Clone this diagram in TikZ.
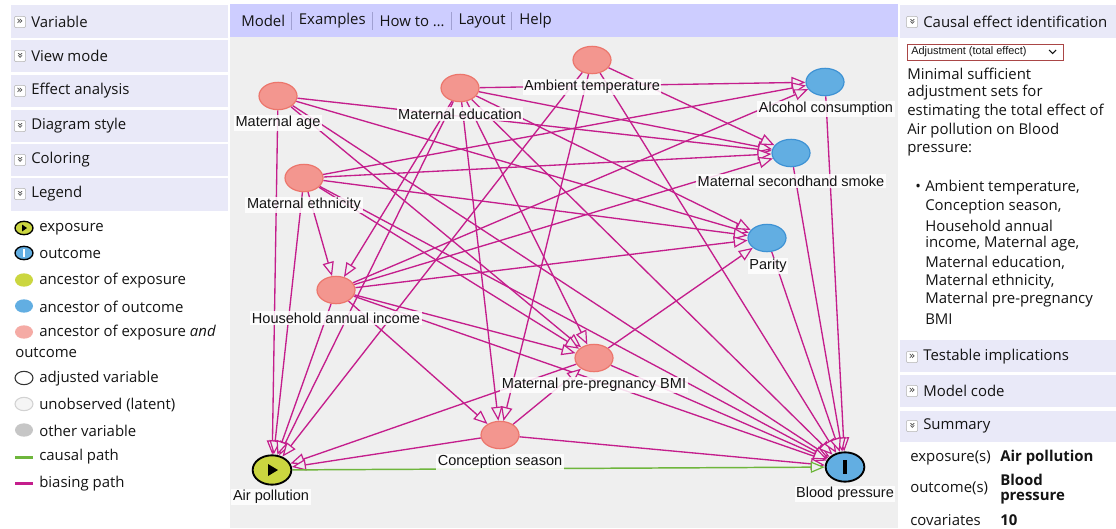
\documentclass[tikz,border=0pt]{standalone}
\usepackage{fontspec}
\setmainfont{Liberation Sans}
\newfontfamily\uif{Open Sans}
\newfontfamily\symf{DejaVu Sans}
\usetikzlibrary{arrows.meta,shapes.geometric}
\definecolor{canvasbg}{RGB}{239,239,239}
\definecolor{menubg}{RGB}{205,205,255}
\definecolor{hdrbg}{RGB}{233,233,248}
\definecolor{pinkfill}{RGB}{243,150,143}
\definecolor{pinkdraw}{RGB}{236,118,108}
\definecolor{bluefill}{RGB}{98,174,226}
\definecolor{bluedraw}{RGB}{62,146,212}
\definecolor{expfill}{RGB}{203,214,64}
\definecolor{edgecol}{RGB}{196,30,140}
\definecolor{causalcol}{RGB}{110,182,60}
\definecolor{sepcol}{RGB}{160,160,210}
\definecolor{ddborder}{RGB}{170,70,70}
\definecolor{txt}{RGB}{20,20,20}
\pgfdeclarelayer{bg}
\pgfdeclarelayer{edges}
\pgfsetlayers{bg,edges,main}
\newcommand\uisz{\uif\fontsize{11.2}{12}\selectfont}
\begin{document}
\begin{tikzpicture}[x=0.75pt,y=-0.75pt,
  var/.style={ellipse, minimum width=28.5pt, minimum height=20.5pt, inner sep=0pt, line width=0.9pt},
  pinkv/.style={var, fill=pinkfill, draw=pinkdraw},
  bluev/.style={var, fill=bluefill, draw=bluedraw},
  lbl/.style={fill=white, fill opacity=0.85, text opacity=1, inner sep=1.2pt, font=\fontsize{10.9}{12}\selectfont, text=txt},
  e/.style={draw=edgecol, line width=1pt, -{Triangle[length=10.5pt,width=8.5pt,fill=canvasbg,line width=0.9pt]}},
  causal/.style={draw=causalcol, line width=1.1pt, -{Triangle[length=10.5pt,width=8.5pt,fill=canvasbg,line width=0.9pt]}},
  ui/.style={font=\uisz, text=txt, inner sep=0pt, anchor=west},
  uib/.style={font=\uisz\bfseries, text=txt, inner sep=0pt, anchor=west},
  hdr/.style={fill=hdrbg},
  icon/.style={draw=gray!60, fill=white, rounded corners=1.5pt, minimum size=8.5pt, inner sep=0pt, font=\symf\fontsize{8}{8}\selectfont, text=gray!40!black},
  leg/.style={ellipse, minimum width=13.5pt, minimum height=10pt, inner sep=0pt},
  sep/.style={draw=sepcol, line width=0.6pt}
]
\useasboundingbox (0,0) rectangle (1116,528);
\begin{pgfonlayer}{bg}
\fill[white] (0,0) rectangle (1116,528);
\fill[canvasbg] (230,37) rectangle (898,528);
\fill[menubg] (230,4) rectangle (898,37);
\end{pgfonlayer}

% ---------- menu bar ----------
\node[ui] (mModel) at (241,21) {Model};
\draw[sep] ([xshift=4.5pt]mModel.east) ++(0,-9) -- ++(0,18);
\node[ui] (mEx) at ([xshift=10pt]mModel.east) {Examples};
\draw[sep] ([xshift=4.5pt]mEx.east) ++(0,-9) -- ++(0,18);
\node[ui] (mHow) at ([xshift=10pt]mEx.east) {How to \ldots};
\draw[sep] ([xshift=4.5pt]mHow.east) ++(0,-9) -- ++(0,18);
\node[ui] (mLay) at ([xshift=10pt]mHow.east) {Layout};
\draw[sep] ([xshift=4.5pt]mLay.east) ++(0,-9) -- ++(0,18);
\node[ui] (mHelp) at ([xshift=10pt]mLay.east) {Help};

% ---------- left panel headers ----------
\fill[hdr] (11,5) rectangle (228,38);
\node[icon] (i1) at (20,22) {»};
\node[ui] (h1) at (31,22) {Variable};
\fill[hdr] (11,40) rectangle (228,72);
\node[icon, rotate=-90] (i2) at (20,56) {»};
\node[ui] (h2) at (31,56) {View mode};
\fill[hdr] (11,75) rectangle (228,107);
\node[icon] (i3) at (20,91) {»};
\node[ui] (h3) at (31,91) {Effect analysis};
\fill[hdr] (11,110) rectangle (228,142);
\node[icon, rotate=-90] (i4) at (20,126) {»};
\node[ui] (h4) at (31,126) {Diagram style};
\fill[hdr] (11,144) rectangle (228,176);
\node[icon, rotate=-90] (i5) at (20,160) {»};
\node[ui] (h5) at (31,160) {Coloring};
\fill[hdr] (11,178) rectangle (228,211);
\node[icon, rotate=-90] (i6) at (20,194) {»};
\node[ui] (h6) at (31,194) {Legend};

% ---------- legend ----------
\node[leg, fill=expfill, draw=black, line width=1pt] (lg1) at (24,228) {};
\fill (lg1.center) ++(-2,-3.5) -- ++(0,7) -- ++(5,-3.5) -- cycle;
\node[ui] (lt1) at (39,229) {exposure};
\node[leg, fill=bluefill, draw=black, line width=1pt] (lg2) at (24,253) {};
\fill[white] (lg2.center) ++(-1,-4) rectangle ++(2,8);
\node[ui] (lt2) at (39,254) {outcome};
\node[leg, fill=expfill] (lg3) at (24,280) {};
\node[ui] (lt3) at (39,281) {ancestor of exposure};
\node[leg, fill=bluefill] (lg4) at (24,306) {};
\node[ui] (lt4) at (39,307) {ancestor of outcome};
\node[leg, fill=pinkfill!80!white] (lg5) at (24,332) {};
\node[ui] (lt5) at (39,333) {ancestor of exposure \textit{and}};
\node[ui] (lt5b) at (15,353) {outcome};
\node[leg, fill=white, draw=black!80, line width=0.8pt] (lg6) at (24,378) {};
\node[ui] (lt6) at (39,379) {adjusted variable};
\node[leg, fill=gray!8, draw=gray!35, line width=0.8pt] (lg7) at (24,404) {};
\node[ui] (lt7) at (39,405) {unobserved (latent)};
\node[leg, fill=gray!45] (lg8) at (24,430) {};
\node[ui] (lt8) at (39,431) {other variable};
\fill[causalcol] (15,456) rectangle (33,459);
\node[ui] (lt9) at (39,457) {causal path};
\fill[edgecol] (15,482) rectangle (33,485);
\node[ui] (lt10) at (39,484) {biasing path};

% ---------- right panel ----------
\fill[hdr] (900,5) rectangle (1116,38);
\node[icon, rotate=-90] (r1) at (912,22) {»};
\node[ui] (rh1) at (923,22) {Causal effect identification};
\node[draw=ddborder, line width=0.7pt, minimum width=117pt, minimum height=12pt, inner sep=0pt, anchor=west, fill=white] (dd) at (907,52) {};
\node[font=\fontsize{8.2}{9}\selectfont, inner sep=0pt, anchor=west, text=txt] (ddt) at (911,52) {Adjustment (total effect)};
\draw[line width=0.8pt, txt] (1049,50) -- (1052.5,53.5) -- (1056,50);
\node[ui] (t1) at (907,74) {Minimal sufficient};
\node[ui] (t2) at (907,93) {adjustment sets for};
\node[ui] (t3) at (907,112) {estimating the total effect of};
\node[ui] (t4) at (907,131) {Air pollution on Blood};
\node[ui] (t5) at (907,150) {pressure:};
\node[ui] (bul) at (915,188) {•};
\node[ui] (l1) at (925,188) {Ambient temperature,};
\node[ui] (l2) at (925,207) {Conception season,};
\node[ui] (l3) at (925,226) {Household annual};
\node[ui] (l4) at (925,244) {income, Maternal age,};
\node[ui] (l5) at (925,263) {Maternal education,};
\node[ui] (l6) at (925,282) {Maternal ethnicity,};
\node[ui] (l7) at (925,300) {Maternal pre-pregnancy};
\node[ui] (l8) at (925,319) {BMI};
\fill[hdr] (900,340) rectangle (1116,372);
\node[icon] (r2) at (912,357) {»};
\node[ui] (rh2) at (923,357) {Testable implications};
\fill[hdr] (900,375) rectangle (1116,407);
\node[icon] (r3) at (912,391) {»};
\node[ui] (rh3) at (923,391) {Model code};
\fill[hdr] (900,411) rectangle (1116,442);
\node[icon, rotate=-90] (r4) at (912,426) {»};
\node[ui] (rh4) at (923,426) {Summary};
\node[ui] (s1) at (910,458) {exposure(s)};
\node[uib] (s1v) at (1000,458) {Air pollution};
\node[ui] (s2) at (910,488) {outcome(s)};
\node[uib] (s2v) at (1000,480) {Blood};
\node[uib] (s2w) at (1000,498) {pressure};
\node[ui] (s3) at (910,520) {covariates};
\node[uib] (s3v) at (1000,520) {10};

% ---------- graph nodes ----------
\node[pinkv] (MA) at (278,96) {};
\node[pinkv] (ME) at (460,88) {};
\node[pinkv] (AT) at (592,60) {};
\node[bluev] (AC) at (825,82) {};
\node[pinkv] (ETH) at (304,178) {};
\node[bluev] (SS) at (791,153) {};
\node[bluev] (P) at (767,238) {};
\node[pinkv] (HI) at (336,290) {};
\node[pinkv] (BMI) at (594,358) {};
\node[pinkv] (CS) at (500,435) {};
\node[var, fill=expfill, draw=black, line width=1.4pt, minimum width=29pt, minimum height=22pt] (AP) at (272,470) {};
\node[var, fill=bluefill, draw=black, line width=1.4pt, minimum width=29pt, minimum height=22pt] (BP) at (845,467) {};
\fill (AP.center) ++(-4,-6) -- ++(0,12) -- ++(10,-6) -- cycle;
\fill (BP.center) ++(-1.6,-7) rectangle ++(3.2,14);

% ---------- edges ----------
\begin{pgfonlayer}{edges}
\foreach \a/\b in {MA/AP, MA/BP, MA/SS, MA/P, MA/BMI,
  ME/AP, ME/BP, ME/AC, ME/SS, ME/P, ME/BMI, ME/HI, ME/CS,
  AT/AP, AT/BP, AT/SS, AT/CS,
  ETH/AP, ETH/BP, ETH/AC, ETH/SS, ETH/P, ETH/BMI, ETH/HI,
  HI/AP, HI/BP, HI/AC, HI/SS, HI/P, HI/BMI, HI/CS,
  BMI/AP, BMI/BP, BMI/P,
  CS/AP, CS/BP, CS/BMI,
  AC/BP, SS/BP, P/BP}
  \draw[e] (\a) -- (\b);
\draw[causal] (AP) -- (BP);
\end{pgfonlayer}

% ---------- labels ----------
\node[lbl] (MAl) at (278,123) {Maternal age};
\node[lbl] (MEl) at (460,114) {Maternal education};
\node[lbl] (ATl) at (592,87) {Ambient temperature};
\node[lbl] (ACl) at (826,109) {Alcohol consumption};
\node[lbl] (ETHl) at (304,205) {Maternal ethnicity};
\node[lbl] (SSl) at (791,181) {Maternal secondhand smoke};
\node[lbl] (Pl) at (768,266) {Parity};
\node[lbl] (HIl) at (336,318) {Household annual income};
\node[lbl] (BMIl) at (594,385) {Maternal pre-pregnancy BMI};
\node[lbl] (CSl) at (500,462) {Conception season};
\node[lbl] (APl) at (271,497) {Air pollution};
\node[lbl] (BPl) at (845,494) {Blood pressure};
\end{tikzpicture}
\end{document}
